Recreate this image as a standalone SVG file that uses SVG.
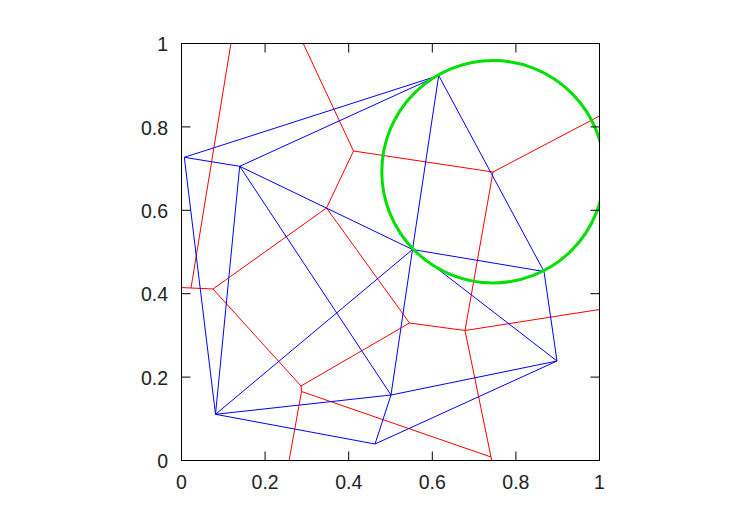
<svg xmlns="http://www.w3.org/2000/svg" width="750" height="525" viewBox="0 0 750 525">
<style>
.frame{fill:none;stroke:#000;stroke-width:1}
.tick{stroke:#000;stroke-width:1}
.vor{stroke:#ff0000;stroke-width:1;fill:none}
.del{stroke:#0000ff;stroke-width:1;fill:none}
.circ{stroke:#00e000;stroke-width:3;fill:none}
text{font-family:"Liberation Sans",Arial,sans-serif;font-size:19.5px;fill:#222}
</style>
<defs>
<clipPath id="plot"><rect x="181.5" y="43.5" width="418" height="417"/></clipPath>
</defs>
<rect width="750" height="525" fill="#fff"/>
<g id="voronoi" class="vor" clip-path="url(#plot)">
<line x1="303" y1="43" x2="353.5" y2="151"/>
<line x1="353.5" y1="151" x2="493" y2="172"/>
<line x1="353.5" y1="151" x2="326.5" y2="208"/>
<line x1="493" y1="172" x2="599.5" y2="116"/>
<line x1="493" y1="172" x2="465" y2="330.5"/>
<line x1="326.5" y1="208" x2="213" y2="289"/>
<line x1="326.5" y1="208" x2="409.5" y2="323"/>
<line x1="213" y1="289" x2="301" y2="386"/>
<line x1="213" y1="289" x2="191" y2="288"/>
<line x1="191" y1="288" x2="231" y2="43"/>
<line x1="191" y1="288" x2="181" y2="287.5"/>
<line x1="301" y1="386" x2="409.5" y2="323"/>
<line x1="301" y1="386" x2="301.5" y2="391.5"/>
<line x1="409.5" y1="323" x2="465" y2="330.5"/>
<line x1="465" y1="330.5" x2="599.5" y2="309.5"/>
<line x1="301.5" y1="391.5" x2="289" y2="461"/>
<line x1="301.5" y1="391.5" x2="491" y2="457"/>
<line x1="465" y1="330.5" x2="491" y2="457"/>
<line x1="491" y1="457" x2="492" y2="461"/>
</g>
<g id="delaunay" class="del">
<line x1="184.3" y1="157.3" x2="438.7" y2="75.5"/>
<line x1="239.7" y1="166.3" x2="438.7" y2="75.5"/>
<line x1="184.3" y1="157.3" x2="239.7" y2="166.3"/>
<line x1="184.3" y1="157.3" x2="215.5" y2="414.3"/>
<line x1="239.7" y1="166.3" x2="215.5" y2="414.3"/>
<line x1="239.7" y1="166.3" x2="391" y2="395"/>
<line x1="239.7" y1="166.3" x2="412.5" y2="249.5"/>
<line x1="438.7" y1="75.5" x2="412.5" y2="249.5"/>
<line x1="438.7" y1="75.5" x2="544" y2="271.5"/>
<line x1="412.5" y1="249.5" x2="544" y2="271.5"/>
<line x1="412.5" y1="249.5" x2="391" y2="395"/>
<line x1="215.5" y1="414.3" x2="412.5" y2="249.5"/>
<line x1="215.5" y1="414.3" x2="391" y2="395"/>
<line x1="215.5" y1="414.3" x2="375" y2="444"/>
<line x1="375" y1="444" x2="391" y2="395"/>
<line x1="375" y1="444" x2="557" y2="361"/>
<line x1="391" y1="395" x2="557" y2="361"/>
<line x1="412.5" y1="249.5" x2="557" y2="361"/>
<line x1="544" y1="271.5" x2="557" y2="361"/>
</g>
<g id="circumcircle" clip-path="url(#plot)">
<circle class="circ" cx="493" cy="171.7" r="111.2"/>
</g>
<g id="axes">
<rect class="frame" x="181.5" y="43.5" width="418" height="417"/>
<path class="tick" d="M181.5 377.1h9M181.5 293.7h9M181.5 210.3h9M181.5 126.9h9M599.5 377.1h-9M599.5 293.7h-9M599.5 210.3h-9M599.5 126.9h-9M265.1 460.5v-9M348.7 460.5v-9M432.3 460.5v-9M515.9 460.5v-9M265.1 43.5v9M348.7 43.5v9M432.3 43.5v9M515.9 43.5v9"/>
</g>
<g id="labels">
<text x="168" y="468" text-anchor="end">0</text>
<text x="168" y="384.5" text-anchor="end">0.2</text>
<text x="168" y="301" text-anchor="end">0.4</text>
<text x="168" y="217.5" text-anchor="end">0.6</text>
<text x="168" y="134.5" text-anchor="end">0.8</text>
<text x="168" y="51" text-anchor="end">1</text>
<text x="181.5" y="489" text-anchor="middle">0</text>
<text x="265.1" y="489" text-anchor="middle">0.2</text>
<text x="348.7" y="489" text-anchor="middle">0.4</text>
<text x="432.3" y="489" text-anchor="middle">0.6</text>
<text x="515.9" y="489" text-anchor="middle">0.8</text>
<text x="599.5" y="489" text-anchor="middle">1</text>
</g>
</svg>
